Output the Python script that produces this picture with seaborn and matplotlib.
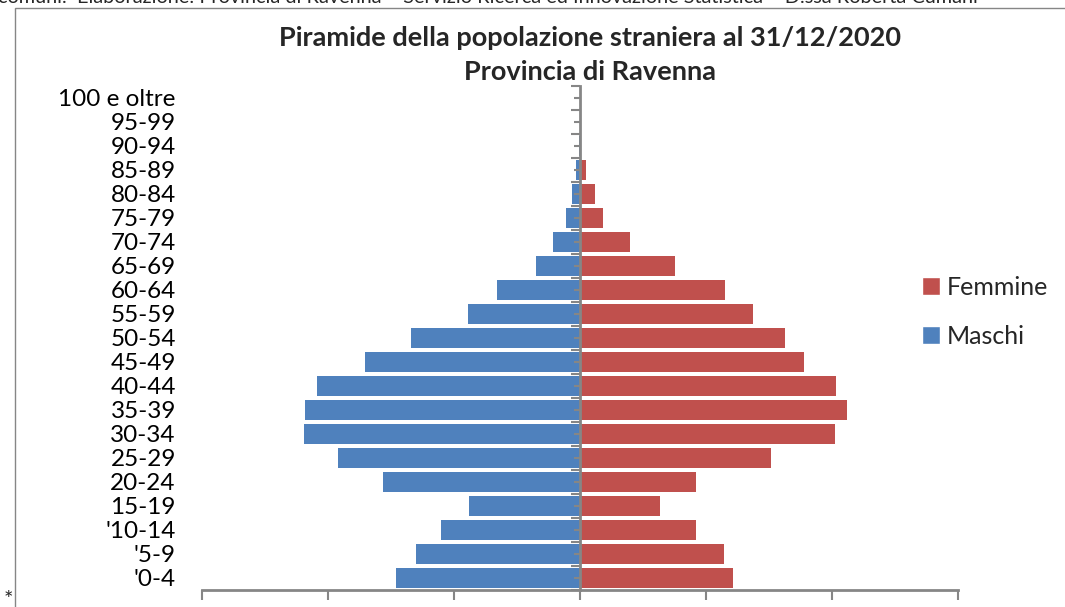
import numpy as np
import pandas as pd
import matplotlib
matplotlib.use("Agg")
import matplotlib.pyplot as plt
from matplotlib.patches import Patch, Rectangle
import seaborn as sns

# age classes, bottom to top
ages = ["'0-4", "'5-9", "'10-14", "15-19", "20-24", "25-29", "30-34", "35-39",
        "40-44", "45-49", "50-54", "55-59", "60-64", "65-69", "70-74", "75-79",
        "80-84", "85-89", "90-94", "95-99", "100 e oltre"]

# foreign residents by sex
maschi = [1461, 1302, 1104, 881, 1564, 1921, 2191, 2183, 2088, 1707, 1342,
          889, 659, 349, 214, 111, 64, 32, 8, 2, 0]
femmine = [1215, 1143, 921, 635, 921, 1516, 2024, 2120, 2032, 1778, 1628,
           1374, 1151, 754, 397, 183, 119, 48, 10, 2, 0]

x_ticks = [-3000, -2000, -1000, 0, 1000, 2000, 3000]

BLUE = "#4F81BD"
RED = "#C0504D"
GREY = "#868686"

sns.set_style("white")
plt.rcParams["font.family"] = ["Lato", "DejaVu Sans"]

df = pd.DataFrame({"eta": ages, "maschi": maschi, "femmine": femmine})
df["maschi_neg"] = -df["maschi"]
order = ages[::-1]

W, H = 1065, 607
fig = plt.figure(figsize=(W / 100, H / 100), dpi=100)
ax = fig.add_axes([202 / W, 1 - 590 / H, (958 - 202) / W, (590 - 86) / H])

sns.barplot(data=df, x="maschi_neg", y="eta", order=order, color=BLUE,
            saturation=1, width=0.84, linewidth=0, ax=ax)
sns.barplot(data=df, x="femmine", y="eta", order=order, color=RED,
            saturation=1, width=0.84, linewidth=0, ax=ax)

ax.set_xlim(x_ticks[0], x_ticks[-1])
ax.set_xticks(x_ticks)
ax.set_xticklabels([])
ax.set_xlabel("")
ax.set_ylabel("")
ax.set_axisbelow(False)

for s in ["top", "right"]:
    ax.spines[s].set_visible(False)
ax.spines["left"].set_position(("data", 0))
ax.spines["left"].set_color(GREY)
ax.spines["left"].set_linewidth(2)
ax.spines["bottom"].set_color(GREY)
ax.spines["bottom"].set_linewidth(2)

ax.tick_params(axis="x", bottom=True, length=7, width=1.5, color=GREY,
               direction="out")
ax.tick_params(axis="y", which="major", left=True, length=4, width=1.5,
               color=GREY, direction="out", pad=287, labelsize=17.5,
               labelcolor="black")
ax.set_yticks(np.arange(-0.5, len(ages), 1), minor=True)
ax.tick_params(axis="y", which="minor", left=True, length=6.5, width=1.5,
               color=GREY, direction="out")

# titles
fig.text(590 / W, 1 - 38 / H, "Piramide della popolazione straniera al 31/12/2020",
         ha="center", va="center", fontsize=19.5, fontweight="bold")
fig.text(590 / W, 1 - 72 / H, "Provincia di Ravenna",
         ha="center", va="center", fontsize=19.5, fontweight="bold")

# source line cut at the top edge, and the footnote mark
fig.text(-2 / W, 1 - 3 / H,
         "comuni.  Elaborazione: Provincia di Ravenna \u2013 Servizio Ricerca ed "
         "Innovazione Statistica \u2013 D.ssa Roberta Cumani",
         ha="left", va="baseline", fontsize=14.3)
fig.text(4 / W, 1 - 606 / H, "*", ha="left", va="baseline", fontsize=16)

# chart frame
fig.add_artist(Rectangle((15 / W, -0.1), 1.2, 1 - 8 / H + 0.1,
                         transform=fig.transFigure, fill=False,
                         edgecolor=GREY, linewidth=1))

handles = [Patch(facecolor=RED, label="Femmine"),
           Patch(facecolor=BLUE, label="Maschi")]
fig.legend(handles=handles, loc="center left",
           bbox_to_anchor=(899 / W, 1 - 312 / H), frameon=False,
           fontsize=18, handlelength=0.72, handleheight=0.72,
           handletextpad=0.3, labelspacing=1.05)

fig.savefig("out.png", dpi=100)
